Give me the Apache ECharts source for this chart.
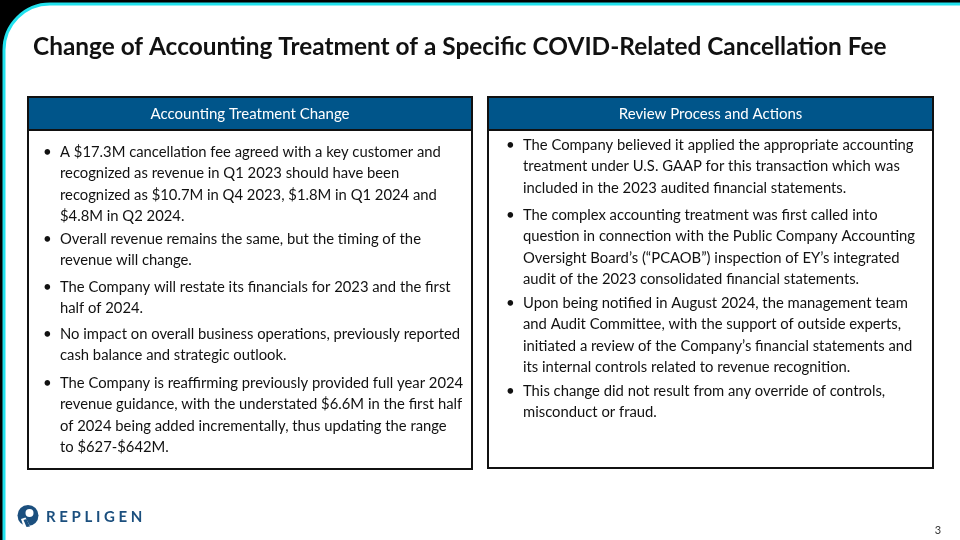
<!DOCTYPE html>
<html>
<head>
<meta charset="utf-8">
<script src="https://cdn.jsdelivr.net/npm/echarts@6/dist/echarts.min.js"></script>
<style>
  html, body { margin: 0; padding: 0; background: #000; }
  #chart { width: 960px; height: 540px; }
</style>
</head>
<body>
<div id="chart"></div>
<script>
const slideTitle = 'Change of Accounting Treatment of a Specific COVID-Related Cancellation Fee'
const panelTitles = ['Accounting Treatment Change', 'Review Process and Actions']

// bullets, pre-wrapped as in the slide
const leftBullets = [
  ['A $17.3M cancellation fee agreed with a key customer and', 'recognized as revenue in Q1 2023 should have been', 'recognized as $10.7M in Q4 2023, $1.8M in Q1 2024 and', '$4.8M in Q2 2024.'],
  ['Overall revenue remains the same, but the timing of the', 'revenue will change.'],
  ['The Company will restate its financials for 2023 and the first', 'half of 2024.'],
  ['No impact on overall business operations, previously reported', 'cash balance and strategic outlook.'],
  ['The Company is reaffirming previously provided full year 2024', 'revenue guidance, with the understated $6.6M in the first half', 'of 2024 being added incrementally, thus updating the range', 'to $627-$642M.']
]
const rightBullets = [
  ['The Company believed it applied the appropriate accounting', 'treatment under U.S. GAAP for this transaction which was', 'included in the 2023 audited financial statements.'],
  ['The complex accounting treatment was first called into', 'question in connection with the Public Company Accounting', 'Oversight Board\u2019s (\u201cPCAOB\u201d) inspection of EY\u2019s integrated', 'audit of the 2023 consolidated financial statements.'],
  ['Upon being notified in August 2024, the management team', 'and Audit Committee, with the support of outside experts,', 'initiated a review of the Company\u2019s financial statements and', 'its internal controls related to revenue recognition.'],
  ['This change did not result from any override of controls,', 'misconduct or fraud.']
]
const leftStarts = [152, 239, 287, 334, 383]
const rightStarts = [145, 215, 303, 391]
const pageNumber = '3'

const FONT = 'Lato, "Open Sans", sans-serif'
const BLUE = '#00558a'
const LOGO = '#1b4f7e'
const LINE_H = 21.4

const chart = echarts.init(document.getElementById('chart'), null, { renderer: 'canvas' })

function panel(x, y, w, h, title) {
  return [
    { type: 'rect', shape: { x, y, width: w, height: h }, style: { fill: '#fff', stroke: '#111', lineWidth: 2 } },
    { type: 'rect', shape: { x, y, width: w, height: 33 }, style: { fill: BLUE, stroke: '#111', lineWidth: 2 } },
    { type: 'text', x: x + w / 2, y: y + 17, style: { text: title, fill: '#fff', font: '15px ' + FONT, align: 'center', verticalAlign: 'middle' } }
  ]
}

function bullets(list, starts, x) {
  const out = []
  list.forEach((lines, i) => {
    out.push({ type: 'text', x: x, y: starts[i], style: { text: '\u2022', fill: '#111', font: '15px ' + FONT, align: 'left', verticalAlign: 'middle' } })
    out.push({ type: 'text', x: x + 17, y: starts[i] - LINE_H / 2, style: { text: lines.join('\n'), fill: '#111', font: '14.8px ' + FONT, lineHeight: LINE_H, align: 'left', verticalAlign: 'top' } })
  })
  return out
}

const elements = [
  { type: 'rect', shape: { x: 0, y: 0, width: 960, height: 540 }, style: { fill: '#000' } },
  { type: 'rect', shape: { x: 4, y: 4, width: 970, height: 550, r: [46, 0, 0, 0] }, style: { fill: '#fff', stroke: '#22e2ee', lineWidth: 3 } },
  { type: 'text', x: 33, y: 47, style: { text: slideTitle, fill: '#111', font: 'bold 24.4px ' + FONT, align: 'left', verticalAlign: 'middle' } },
  ...panel(28, 97, 444, 372, panelTitles[0]),
  ...panel(488, 97, 445, 371, panelTitles[1]),
  ...bullets(leftBullets, leftStarts, 43),
  ...bullets(rightBullets, rightStarts, 506),
  // logo mark
  { type: 'circle', shape: { cx: 28, cy: 515.5, r: 10.5 }, style: { fill: LOGO } },
  { type: 'circle', shape: { cx: 29.5, cy: 513, r: 4 }, style: { fill: '#fff' } },
  { type: 'polygon', shape: { points: [[21, 519], [25.5, 517.5], [31, 528], [24, 528]] }, style: { fill: '#fff' } },
  { type: 'polygon', shape: { points: [[23.5, 520], [26.5, 519], [30, 526.5], [26.5, 527]] }, style: { fill: LOGO } },
  { type: 'text', x: 46, y: 517, style: { text: 'R E P L I G E N', fill: LOGO, font: 'bold 15px ' + FONT, align: 'left', verticalAlign: 'middle' } },
  { type: 'text', x: 938, y: 530, style: { text: pageNumber, fill: '#333', font: '11px ' + FONT, align: 'center', verticalAlign: 'middle' } }
]

chart.setOption({
  animation: false,
  graphic: { elements }
})
</script>
</body>
</html>
